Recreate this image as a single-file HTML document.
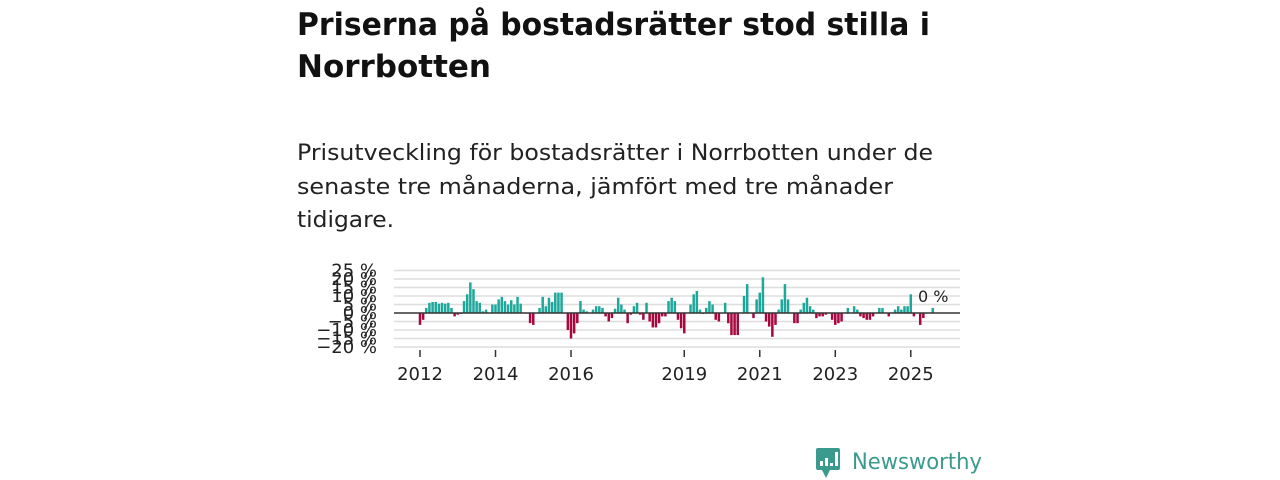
<!DOCTYPE html>
<html><head><meta charset="utf-8"><style>
html,body{margin:0;padding:0;background:#fff;width:1280px;height:480px;overflow:hidden}
svg{display:block;font-family:"DejaVu Sans","Liberation Sans",sans-serif}
</style></head><body>
<svg id="chart" width="1280" height="480">
<text x="297" y="35" font-size="31" font-weight="bold" fill="#111" textLength="633" lengthAdjust="spacingAndGlyphs">Priserna på bostadsrätter stod stilla i</text>
<text x="297" y="77" font-size="31" font-weight="bold" fill="#111" textLength="194" lengthAdjust="spacingAndGlyphs">Norrbotten</text>
<text x="297" y="160" font-size="22" fill="#222" textLength="636" lengthAdjust="spacingAndGlyphs">Prisutveckling för bostadsrätter i Norrbotten under de</text>
<text x="297" y="194" font-size="22" fill="#222" textLength="596" lengthAdjust="spacingAndGlyphs">senaste tre månaderna, jämfört med tre månader</text>
<text x="297" y="227" font-size="22" fill="#222" textLength="97" lengthAdjust="spacingAndGlyphs">tidigare.</text>
<g id="grid"></g><g id="bars"></g><g id="axes"></g>
<text x="918" y="302" font-size="16" fill="#222">0 %</text>
<g>
<rect x="816" y="448" width="24" height="22" rx="2" fill="#3b9a8e"/>
<path d="M822 470 L826 478 L830 470 Z" fill="#3b9a8e"/>
<rect x="820" y="461" width="3" height="5" fill="#fff"/><rect x="825" y="458" width="3" height="8" fill="#fff"/><rect x="830" y="463" width="3" height="3" fill="#fff"/><rect x="835" y="452" width="3" height="14" fill="#fff"/>
<text x="852" y="469" font-size="22" fill="#3b9a8e" textLength="130" lengthAdjust="spacingAndGlyphs">Newsworthy</text>
</g>
</svg>
<script>
const startYear = 2012;
const values = [
-7,-4,3,6,6.5,6.5,5.5,6,5.5,6,3,-2,
-1,-0.5,7,11,18,14,7,6,1,2,0,5,
5,8,9.5,7,5,7.5,5,9.5,5.5,0,0,-6,
-7,0,3,9.5,4,9,6.5,12,12,12,0,-10,
-15,-12,-6,7,2,1,0,2,4,4,3,-2,
-5,-3,2.5,9,5,2,-6,-1,4,6,-1,-4,
6,-5,-8.5,-8.5,-6,-2,-2,7,9,7,-4,-9,
-12,0,5,11,13,2,-0.5,3,7,5,-4,-5,
0,6,-6,-13,-13,-13,0,10,17,0,-3,8,
12,21,-5,-8,-14,-7,2,8,17,8,0,-6,
-6,2,6,9,4,2,-3,-2,-2,-1,0,-4,
-7,-6,-5,0,3,0,4,2,-2,-3,-4,-4,
-2,0,3,3,0,-2,0,2,4,2,4,4,
11,-2,0,-7,-3,0,0,3];
const yTicks = [25,20,15,10,5,0,-5,-10,-15,-20];
const yTickLabels = ["25 %","20 %","15 %","10 %","5 %","0 %","−5 %","−10 %","−15 %","−20 %"];
const xTickYears = [2012,2014,2016,2019,2021,2023,2025];
const NS='http://www.w3.org/2000/svg';
function y(v){return 313 - v*1.7;}
function x(i){return 420 + i*3.146;}
function xYear(yr){return x((yr-startYear)*12);}
function mk(tag,attrs,parent){const e=document.createElementNS(NS,tag);for(const k in attrs)e.setAttribute(k,attrs[k]);parent.appendChild(e);return e;}
const grid=document.getElementById('grid'),bars=document.getElementById('bars'),axes=document.getElementById('axes');
yTicks.forEach((t,k)=>{
  if(t!==0){const l=mk('line',{x1:394,x2:960,y1:y(t),y2:y(t),stroke:'#ddd','stroke-width':1.5},grid);
  
  }
  const tx=mk('text',{x:377,y:y(t)+6,'font-size':18,fill:'#222','text-anchor':'end'},axes);
  tx.textContent=yTickLabels[k];
  
  
});
values.forEach((v,i)=>{
  const r=mk('rect',{x:x(i)-1.25,width:2.5,y:Math.min(y(v),y(0)),height:Math.abs(y(v)-y(0)),fill:v>=0?'#1ea89b':'#a8063f'},bars);
  
  
});
const zl=mk('line',{x1:394,x2:960,y1:y(0),y2:y(0),stroke:'#333','stroke-width':1.5},axes);


xTickYears.forEach(yr=>{
  const tk=mk('line',{x1:xYear(yr),x2:xYear(yr),y1:350,y2:357,stroke:'#333','stroke-width':1.5},axes);
  
  
  const tx=mk('text',{x:xYear(yr),y:380,'font-size':18,fill:'#222','text-anchor':'middle'},axes);
  tx.textContent=yr;
  
  
});
</script>
</body></html>
